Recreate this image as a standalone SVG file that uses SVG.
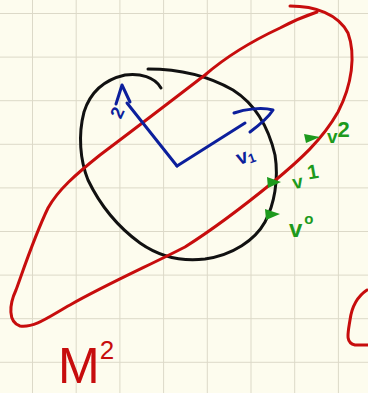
<svg xmlns="http://www.w3.org/2000/svg" width="368" height="393" viewBox="0 0 368 393">
<style>
.grid line{stroke:#dcd9c8;stroke-width:1}
.ink{fill:none;stroke-linecap:round;stroke-linejoin:round}
.red{stroke:#c70d0d;stroke-width:3}
.blk{stroke:#111;stroke-width:3}
.blu{stroke:#0c1f9c;stroke-width:3}
.lbl{font-family:"Liberation Sans",Arial,sans-serif;font-weight:bold}
.g{fill:#1d9a1d}
</style>
<rect width="368" height="393" fill="#fdfcee"/>
<g class="grid">
<line x1="32.5" y1="0" x2="32.5" y2="393"/><line x1="76.2" y1="0" x2="76.2" y2="393"/><line x1="119.9" y1="0" x2="119.9" y2="393"/><line x1="163.6" y1="0" x2="163.6" y2="393"/><line x1="207.3" y1="0" x2="207.3" y2="393"/><line x1="251" y1="0" x2="251" y2="393"/><line x1="294.7" y1="0" x2="294.7" y2="393"/><line x1="338.4" y1="0" x2="338.4" y2="393"/>
<line x1="0" y1="13.5" x2="368" y2="13.5"/><line x1="0" y1="57.1" x2="368" y2="57.1"/><line x1="0" y1="100.7" x2="368" y2="100.7"/><line x1="0" y1="144.3" x2="368" y2="144.3"/><line x1="0" y1="187.9" x2="368" y2="187.9"/><line x1="0" y1="231.5" x2="368" y2="231.5"/><line x1="0" y1="275.1" x2="368" y2="275.1"/><line x1="0" y1="318.7" x2="368" y2="318.7"/><line x1="0" y1="362.3" x2="368" y2="362.3"/>
</g>
<g id="circle">
<path class="ink blk" d="M148,69 C175,69 205,74 233,90 C255,104 268,125 275,155 C279,180 274,205 265,222 C255,240 233,255 205,259 C180,262 160,257 140,243 C118,227 100,205 88,180 C80,160 78,135 84,112 C90,93 103,80 125,75 C140,73 155,77 161,88"/>
</g>
<g id="manifold">
<path class="ink red" d="M290,6 C315,6 338,14 348,33 C356,55 352,85 338,112 C322,140 300,160 272,183 C245,205 215,228 185,247 C150,265 105,285 70,305 C50,316 35,328 20,326 C8,322 9,305 16,290 C25,265 35,235 48,208 C58,190 75,175 100,155 C140,125 175,98 205,75 C228,55 250,42 280,28 C295,20 308,15 317,12"/>
<path class="ink red" d="M367,290 C358,296 352,305 350,320 C348,333 345,343 355,345 L368,345"/>
</g>
<g id="vectors">
<path class="ink blu" d="M177,166 L127,103"/>
<path class="ink blu" d="M116,104 L122,85 L130,102"/>
<path class="ink blu" d="M177,166 L245,123"/>
<path class="ink blu" d="M234,113 C245,109 262,107 273,110 C268,118 258,126 250,132"/>
<text class="lbl" x="117" y="122" font-size="18" fill="#0c1f9c" transform="rotate(-65 117 118)">2</text>
<text class="lbl" x="236" y="163" font-size="20" fill="#0c1f9c" transform="rotate(-20 244 156)">v<tspan font-size="13" dy="2">1</tspan></text>
</g>
<g id="points" class="g">
<path d="M304,134 L320,137 L306,143 Z"/>
<path d="M267,177 L281,182 L268,188 Z"/>
<path d="M265,209 L280,214 L266,220 Z"/>
</g>
<g id="labels" class="lbl g">
<text x="327" y="143" font-size="19">v<tspan font-size="22" dy="-6">2</tspan></text>
<text x="292" y="188" font-size="19" transform="rotate(-10 300 180)">v<tspan font-size="20" dy="-7" dx="6">1</tspan></text>
<text x="289" y="237" font-size="24">v<tspan font-size="15" dy="-13" dx="2">o</tspan></text>
<text x="58" y="383" font-size="50" fill="#c70d0d" font-weight="normal">M<tspan font-size="26" dy="-24">2</tspan></text>
</g>
</svg>
